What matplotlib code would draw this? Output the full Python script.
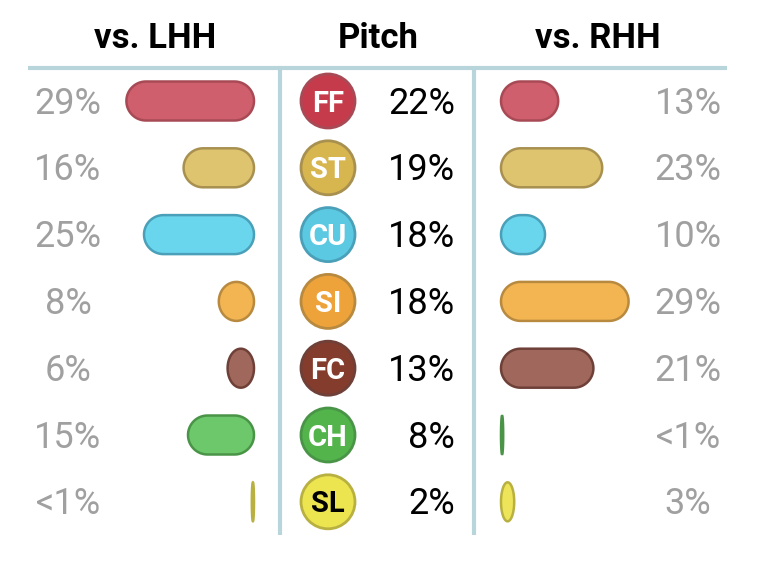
import numpy as np
import matplotlib.pyplot as plt
from matplotlib.patches import PathPatch, Circle
from matplotlib.path import Path

plt.rcParams["font.family"] = ["Roboto", "DejaVu Sans"]

pitches = ["FF", "ST", "CU", "SI", "FC", "CH", "SL"]
usage = [22, 19, 18, 18, 13, 8, 2]
lhh = [29, 16, 25, 8, 6, 15, 0.5]
rhh = [13, 23, 10, 29, 21, 0.5, 3]
lhh_labels = ["29%", "16%", "25%", "8%", "6%", "15%", "<1%"]
rhh_labels = ["13%", "23%", "10%", "29%", "21%", "<1%", "3%"]

# fill of the circle, fill of the bars, edge colour, text colour
circle_colors = ["#c63b4b", "#d7b54f", "#5cc9e3", "#eea23a", "#843c2c", "#52b44a", "#ece550"]
bar_colors = ["#cf5f6c", "#dfc470", "#6ad6ee", "#f3b452", "#a0685c", "#6cc86a", "#ede45a"]
edge_colors = ["#a84a55", "#a89050", "#4aa0b8", "#b88a40", "#6e4038", "#4a9448", "#b8b040"]
text_colors = ["white"] * 6 + ["black"]

W, H = 762, 572
fig = plt.figure(figsize=(W / 100, H / 100), dpi=100)
ax = fig.add_axes([0, 0, 1, 1])
ax.set_xlim(0, W)
ax.set_ylim(H, 0)
ax.axis("off")

line_col = "#b9d5dc"
row0, row_step = 101, 66.8
px_per_pct = 4.4
bar_h = 39
left_end, right_start = 254, 501
gray = "#a0a0a0"

# headers
for x, t in [(155, "vs. LHH"), (378, "Pitch"), (598, "vs. RHH")]:
    ax.text(x, 48, t, ha="center", va="baseline", fontsize=25, fontweight="bold")

ax.plot([28, 727], [68, 68], color=line_col, lw=3, solid_capstyle="butt")
for x in [280, 474]:
    ax.plot([x, x], [68, 535], color=line_col, lw=3, solid_capstyle="butt")


def capsule(x0, yc, w, fc, ec):
    # rounded bar; narrow ones turn into ellipses
    ry = bar_h / 2
    rx = min(w / 2, ry)
    x1 = x0 + w
    y0, y1 = yc - ry, yc + ry
    corners = [(x1 - rx, y1 - ry, 0, 90), (x0 + rx, y1 - ry, 90, 180),
               (x0 + rx, y0 + ry, 180, 270), (x1 - rx, y0 + ry, 270, 360)]
    verts = []
    for cx, cy, a0, a1 in corners:
        t = np.radians(np.linspace(a0, a1, 20))
        verts += list(zip(cx + rx * np.cos(t), cy + ry * np.sin(t)))
    verts.append(verts[0])
    ax.add_patch(PathPatch(Path(verts, closed=True), fc=fc, ec=ec, lw=1.8))


for i, p in enumerate(pitches):
    yc = row0 + i * row_step
    # left bars grow to the left
    wl = lhh[i] * px_per_pct
    capsule(left_end - wl, yc, wl, bar_colors[i], edge_colors[i])
    wr = rhh[i] * px_per_pct
    capsule(right_start, yc, wr, bar_colors[i], edge_colors[i])

    ax.text(68, yc + 12.5, lhh_labels[i], ha="center", va="baseline",
            fontsize=26, color=gray)
    ax.text(688, yc + 12.5, rhh_labels[i], ha="center", va="baseline",
            fontsize=26, color=gray)

    ax.add_patch(Circle((328, yc), 27, fc=circle_colors[i], ec=edge_colors[i], lw=2))
    ax.text(328, yc + 10.5, p, ha="center", va="baseline", fontsize=21,
            fontweight="bold", color=text_colors[i])
    ax.text(455, yc + 12.5, f"{usage[i]}%", ha="right", va="baseline",
            fontsize=26, color="black")

fig.savefig("out.png", dpi=100)
